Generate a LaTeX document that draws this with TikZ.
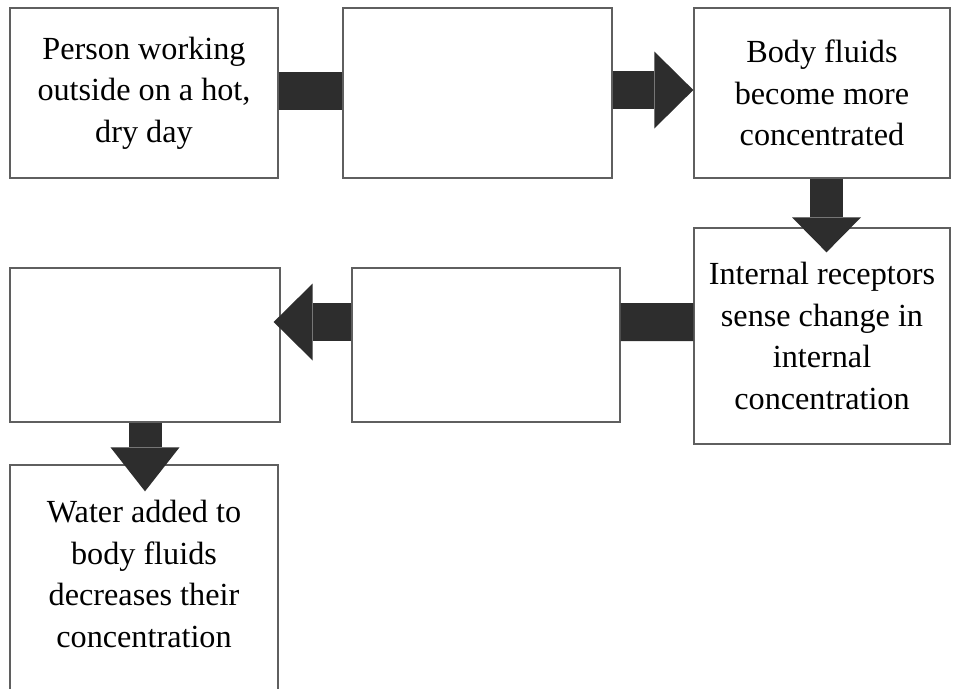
\documentclass[tikz,border=0pt]{standalone}
\usepackage{fontspec}
\setmainfont{Liberation Serif}
\usetikzlibrary{arrows.meta}
\definecolor{boxgray}{RGB}{95,95,95}
\definecolor{arrowgray}{RGB}{45,45,45}
\newcommand\boxfont{\fontsize{27.5}{35.5}\selectfont}
\tikzset{
  flowbox/.style={draw=boxgray, line width=0.04cm, fill=white, align=center, inner sep=0pt, font=\boxfont},
  blockbar/.style={line width=1.14cm, draw=arrowgray},
  harrow/.style={blockbar, -{Triangle[length=1.17cm, width=2.31cm, line width=0pt]}},
  varrow/.style={line width=0.99cm, draw=arrowgray, -{Triangle[length=#1, width=2.07cm, line width=0pt]}},
  varrow/.default=1.05cm,
  boxtext/.style={align=center, inner sep=0pt, font=\boxfont}
}
\begin{document}
\begin{tikzpicture}[x=0.03cm, y=-0.03cm]
  \useasboundingbox (0,0) rectangle (953,688);
  % top row
  \node[flowbox, minimum width=8.04cm, minimum height=5.1cm] (work) at (144,93) {Person working\\outside on a hot,\\dry day};
  \node[flowbox, minimum width=8.07cm, minimum height=5.1cm] (blank1) at (477.5,93) {};
  \node[flowbox, minimum width=7.68cm, minimum height=5.1cm] (fluids) at (822,93) {Body fluids\\become more\\concentrated};
  % middle row
  \node[flowbox, minimum width=7.68cm, minimum height=6.48cm] (sense) at (822,336) {Internal receptors\\sense change in\\internal\\concentration};
  \node[flowbox, minimum width=8.04cm, minimum height=4.62cm] (blank2) at (486,345) {};
  \node[flowbox, minimum width=8.1cm, minimum height=4.62cm] (blank3) at (145,345) {};
  % bottom box runs off the page
  \node[flowbox, minimum width=8.04cm, minimum height=7.65cm] (water) at (144,592.5) {};
  \node[boxtext] (watertext) at (144,574) {Water added to\\body fluids\\decreases their\\concentration};

  \draw[blockbar] ([yshift=0.06cm]work.east) -- ([yshift=0.06cm]blank1.west);
  \draw[harrow] ([yshift=0.09cm]blank1.east) -- ([yshift=0.09cm]fluids.west);
  \draw[varrow] ([xshift=0.135cm]fluids.south) -- ([xshift=0.135cm,yshift=-0.75cm]sense.north);
  \draw[blockbar] ([yshift=0.42cm]sense.west) -- ([yshift=0.69cm]blank2.east);
  \draw[harrow] ([yshift=0.69cm]blank2.west) -- ([xshift=-0.21cm,yshift=0.69cm]blank3.east);
  \draw[varrow=1.32cm] (blank3.south) -- ([xshift=0.03cm,yshift=-0.81cm]water.north);
\end{tikzpicture}
\end{document}
